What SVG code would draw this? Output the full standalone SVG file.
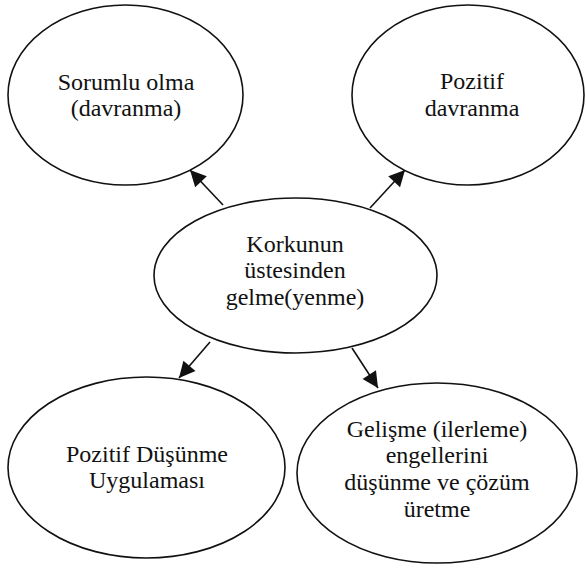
<svg xmlns="http://www.w3.org/2000/svg" width="586" height="569" viewBox="0 0 586 569">
<style>
.n{fill:#fff;stroke:#111;stroke-width:1.6}
.t{font-family:'Liberation Serif','Times New Roman',serif;font-size:24px;fill:#111;text-anchor:middle}
.c{stroke:#111;stroke-width:1.6;fill:none}
</style>
<defs>
<marker id="ah" viewBox="0 0 10 10" refX="10" refY="5" markerWidth="20" markerHeight="16" markerUnits="userSpaceOnUse" orient="auto" overflow="visible">
<path d="M0,0 L10,5 L0,10 z" fill="#111"/>
</marker>
</defs>
<rect width="586" height="569" fill="#fff"/>
<g id="connectors">
<line class="c" x1="223" y1="205" x2="190" y2="170" marker-end="url(#ah)"/>
<line class="c" x1="370" y1="208" x2="405" y2="170" marker-end="url(#ah)"/>
<line class="c" x1="210" y1="342" x2="179" y2="378" marker-end="url(#ah)"/>
<line class="c" x1="352" y1="348" x2="378" y2="388" marker-end="url(#ah)"/>
</g>
<g id="n1">
<ellipse class="n" cx="125.5" cy="95" rx="117.5" ry="90"/>
<text class="t" x="126" y="90">Sorumlu olma</text>
<text class="t" x="126" y="116">(davranma)</text>
</g>
<g id="n2">
<ellipse class="n" cx="468" cy="95" rx="116" ry="90"/>
<text class="t" x="472" y="89">Pozitif</text>
<text class="t" x="472" y="116">davranma</text>
</g>
<g id="n3">
<ellipse class="n" cx="295.5" cy="275.5" rx="141.5" ry="77.5"/>
<text class="t" x="295" y="252">Korkunun</text>
<text class="t" x="295" y="278">üstesinden</text>
<text class="t" x="295" y="305">gelme(yenme)</text>
</g>
<g id="n4">
<ellipse class="n" cx="146.5" cy="467.5" rx="138.5" ry="90.5"/>
<text class="t" x="147" y="462">Pozitif Düşünme</text>
<text class="t" x="147" y="488">Uygulaması</text>
</g>
<g id="n5">
<ellipse class="n" cx="437" cy="473" rx="140" ry="90"/>
<text class="t" x="437" y="437">Gelişme (ilerleme)</text>
<text class="t" x="437" y="463">engellerini</text>
<text class="t" x="437" y="490">düşünme ve çözüm</text>
<text class="t" x="437" y="517">üretme</text>
</g>
</svg>
